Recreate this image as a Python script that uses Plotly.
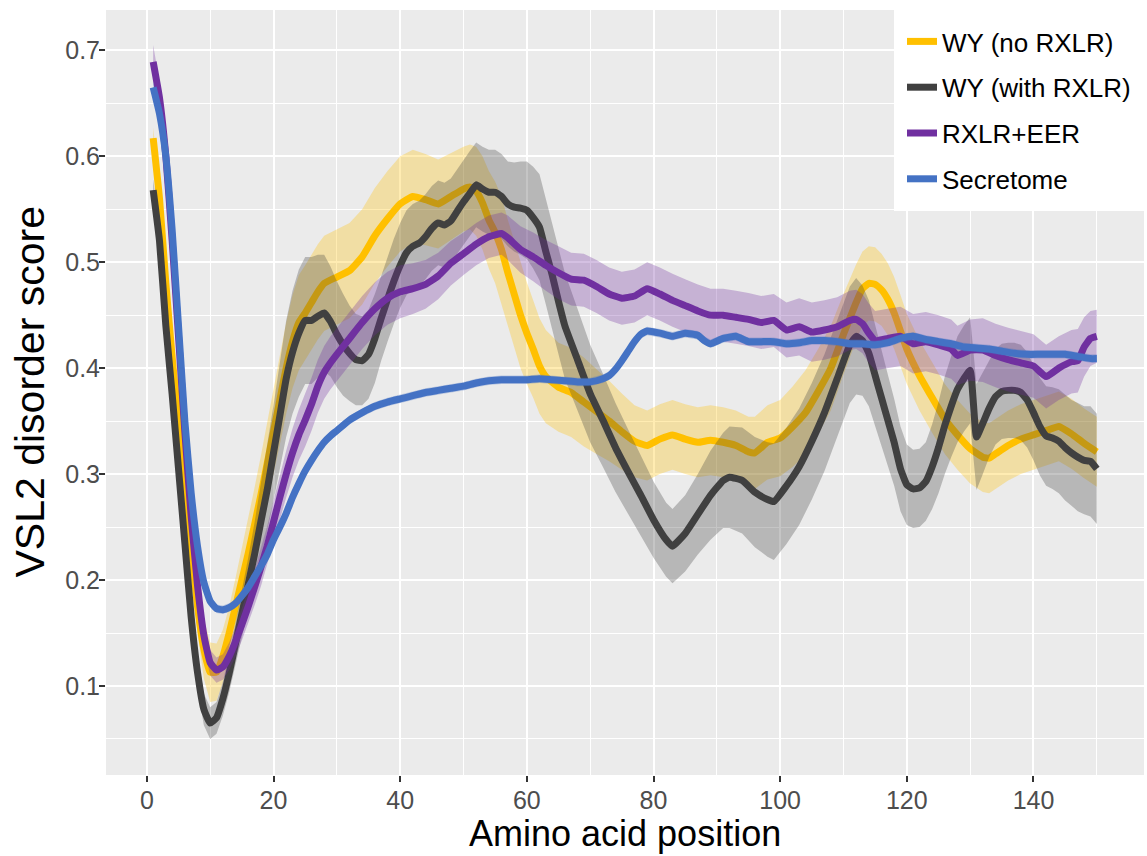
import plotly.graph_objects as go

# ---------------- data ----------------
series_names = ["WY (no RXLR)", "WY (with RXLR)", "RXLR+EER", "Secretome"]

x_wy_no = [1, 2, 3, 4, 5, 6, 7, 8, 9, 10, 11, 12, 13, 14, 15, 16, 17, 18, 19, 20,
           21, 22, 23, 24, 25, 26, 27, 28, 30, 32, 34, 36, 38, 40, 42, 44, 46, 48, 50,
           51, 52, 53, 54, 55, 56, 57, 58, 59, 60, 61, 62, 63, 65, 67, 69, 71, 73, 75,
           77, 79, 81, 83, 85, 87, 89, 91, 93, 95, 96, 98, 100, 102, 104, 106, 108, 110,
           112, 113, 114, 115, 116, 117, 118, 119, 120, 122, 124, 126, 128, 130, 132,
           133, 134, 136, 138, 140, 142, 144, 146, 148, 150]
y_wy_no = [0.617, 0.56, 0.48, 0.41, 0.35, 0.29, 0.23, 0.175, 0.135, 0.113, 0.113, 0.128,
           0.15, 0.175, 0.2, 0.225, 0.252, 0.28, 0.31, 0.34, 0.37, 0.40, 0.425, 0.443,
           0.452, 0.462, 0.472, 0.48, 0.486, 0.492, 0.505, 0.525, 0.541, 0.555, 0.562,
           0.559, 0.555, 0.562, 0.569, 0.571, 0.567, 0.556, 0.54, 0.528, 0.512, 0.49,
           0.47, 0.45, 0.433, 0.418, 0.402, 0.392, 0.382, 0.377, 0.368, 0.359, 0.35,
           0.34, 0.331, 0.327, 0.333, 0.337, 0.333, 0.33, 0.332, 0.33, 0.327, 0.321,
           0.32, 0.33, 0.334, 0.345, 0.358, 0.378, 0.40, 0.432, 0.462, 0.475, 0.48,
           0.479, 0.474, 0.465, 0.452, 0.435, 0.418, 0.393, 0.372, 0.352, 0.337, 0.324,
           0.316, 0.315, 0.319, 0.327, 0.333, 0.337, 0.341, 0.345, 0.338, 0.329, 0.321]
se_wy_no = [0.01, 0.012, 0.014, 0.015, 0.016, 0.018, 0.02, 0.025, 0.028, 0.028, 0.027,
            0.025, 0.025, 0.027, 0.03, 0.032, 0.035, 0.037, 0.04, 0.04, 0.042, 0.043,
            0.044, 0.045, 0.045, 0.045, 0.045, 0.045, 0.045, 0.045, 0.045, 0.045, 0.045,
            0.045, 0.044, 0.043, 0.042, 0.041, 0.04, 0.04, 0.042, 0.044, 0.046, 0.048,
            0.05, 0.05, 0.05, 0.05, 0.048, 0.046, 0.045, 0.044, 0.042, 0.042, 0.042,
            0.04, 0.038, 0.036, 0.034, 0.033, 0.033, 0.033, 0.033, 0.033, 0.033, 0.033,
            0.033, 0.033, 0.034, 0.035, 0.036, 0.038, 0.04, 0.04, 0.04, 0.038, 0.036,
            0.035, 0.035, 0.035, 0.034, 0.034, 0.034, 0.034, 0.033, 0.033, 0.033, 0.033,
            0.033, 0.033, 0.033, 0.033, 0.033, 0.033, 0.033, 0.033, 0.033, 0.033, 0.033,
            0.033, 0.033]

x_wy_with = [1, 2, 3, 4, 5, 6, 7, 8, 9, 10, 11, 12, 13, 14, 15, 16, 17, 18, 19, 20,
             21, 22, 23, 24, 25, 26, 27, 28, 29, 30, 31, 32, 33, 34, 35, 36, 37, 38, 39,
             40, 41, 42, 43, 44, 45, 46, 47, 48, 49, 50, 51, 52, 53, 54, 55, 56, 57, 58,
             59, 60, 61, 62, 63, 64, 65, 66, 68, 70, 72, 74, 76, 78, 80, 82, 83, 85, 87,
             89, 91, 92, 94, 96, 98, 99, 101, 103, 105, 107, 109, 111, 112, 113, 114, 115,
             116, 117, 118, 119, 120, 121, 122, 123, 124, 125, 126, 127, 128, 129, 130,
             131, 132, 133, 134, 135, 136, 137, 138, 139, 140, 141, 142, 143, 144, 145,
             146, 147, 148, 149, 150]
y_wy_with = [0.568, 0.52, 0.44, 0.375, 0.305, 0.235, 0.165, 0.113, 0.078, 0.065, 0.07,
             0.088, 0.112, 0.14, 0.168, 0.196, 0.224, 0.255, 0.285, 0.32, 0.355, 0.39,
             0.415, 0.433, 0.445, 0.445, 0.449, 0.452, 0.444, 0.432, 0.422, 0.414, 0.408,
             0.407, 0.413, 0.428, 0.447, 0.465, 0.482, 0.497, 0.509, 0.515, 0.518, 0.524,
             0.532, 0.537, 0.535, 0.539, 0.548, 0.557, 0.565, 0.573, 0.569, 0.566, 0.566,
             0.562, 0.555, 0.552, 0.551, 0.549, 0.542, 0.533, 0.51, 0.488, 0.463, 0.44,
             0.408, 0.376, 0.351, 0.325, 0.302, 0.28, 0.257, 0.238, 0.232, 0.244, 0.262,
             0.28, 0.294, 0.297, 0.294, 0.283, 0.276, 0.274, 0.289, 0.307, 0.331, 0.358,
             0.39, 0.422, 0.43, 0.426, 0.414, 0.393, 0.372, 0.351, 0.33, 0.305, 0.29,
             0.286, 0.287, 0.293, 0.307, 0.325, 0.346, 0.364, 0.38, 0.39, 0.398, 0.335,
             0.348, 0.362, 0.373, 0.378, 0.379, 0.379, 0.377, 0.37, 0.358, 0.345, 0.336,
             0.334, 0.331, 0.325, 0.32, 0.316, 0.313, 0.312, 0.305]
se_wy_with = [0.01, 0.012, 0.014, 0.015, 0.016, 0.017, 0.017, 0.016, 0.015, 0.015, 0.015,
              0.016, 0.018, 0.02, 0.022, 0.025, 0.03, 0.035, 0.04, 0.045, 0.05, 0.055,
              0.058, 0.06, 0.06, 0.06, 0.058, 0.055, 0.052, 0.05, 0.048, 0.045, 0.043,
              0.042, 0.042, 0.042, 0.04, 0.04, 0.04, 0.04, 0.04, 0.04, 0.04, 0.04, 0.04,
              0.04, 0.04, 0.04, 0.04, 0.04, 0.04, 0.04, 0.04, 0.04, 0.04, 0.04, 0.04,
              0.042, 0.044, 0.046, 0.048, 0.05, 0.05, 0.05, 0.05, 0.05, 0.048, 0.046,
              0.044, 0.042, 0.04, 0.038, 0.036, 0.035, 0.035, 0.036, 0.038, 0.042, 0.045,
              0.048, 0.05, 0.052, 0.054, 0.055, 0.055, 0.055, 0.055, 0.055, 0.055, 0.055,
              0.055, 0.052, 0.05, 0.047, 0.045, 0.043, 0.041, 0.04, 0.038, 0.037, 0.037,
              0.037, 0.04, 0.043, 0.046, 0.048, 0.05, 0.05, 0.05, 0.05, 0.048, 0.046,
              0.045, 0.045, 0.045, 0.045, 0.045, 0.045, 0.045, 0.046, 0.047, 0.048,
              0.049, 0.05, 0.05, 0.051, 0.051, 0.052, 0.052, 0.052]

x_rxlr = [1, 2, 3, 4, 5, 6, 7, 8, 9, 10, 11, 12, 13, 14, 15, 16, 17, 18, 19, 20, 21, 22,
          23, 24, 25, 26, 27, 28, 29, 30, 32, 34, 36, 38, 40, 42, 44, 46, 48, 50, 52, 54,
          56, 57, 59, 61, 63, 65, 67, 69, 71, 73, 75, 77, 79, 81, 83, 85, 87, 89, 91, 93,
          95, 97, 99, 101, 103, 105, 107, 109, 111, 112, 113, 114, 115, 117, 119, 121,
          123, 125, 127, 128, 130, 132, 134, 136, 138, 140, 142, 144, 146, 147, 148, 149,
          150]
y_rxlr = [0.689, 0.655, 0.6, 0.52, 0.43, 0.34, 0.26, 0.195, 0.148, 0.122, 0.115, 0.118,
          0.128, 0.142, 0.158, 0.175, 0.193, 0.212, 0.232, 0.255, 0.278, 0.3, 0.32, 0.337,
          0.351, 0.366, 0.383, 0.396, 0.405, 0.413, 0.428, 0.443, 0.456, 0.466, 0.472,
          0.475, 0.479, 0.487, 0.499, 0.508, 0.517, 0.524, 0.527, 0.523, 0.512, 0.505,
          0.497, 0.49, 0.484, 0.483, 0.477, 0.47, 0.466, 0.468, 0.475, 0.47, 0.464,
          0.459, 0.454, 0.45, 0.45, 0.448, 0.446, 0.443, 0.445, 0.436, 0.439, 0.434,
          0.436, 0.439, 0.445, 0.446, 0.442, 0.433, 0.426, 0.428, 0.43, 0.423, 0.425,
          0.422, 0.418, 0.412, 0.417, 0.417, 0.412, 0.408, 0.405, 0.402, 0.392, 0.4,
          0.406, 0.407, 0.42, 0.428, 0.43]
se_rxlr = [0.016, 0.015, 0.014, 0.013, 0.013, 0.012, 0.012, 0.012, 0.012, 0.012, 0.012,
           0.012, 0.013, 0.014, 0.015, 0.016, 0.017, 0.018, 0.019, 0.02, 0.021, 0.022,
           0.023, 0.024, 0.025, 0.025, 0.025, 0.025, 0.025, 0.025, 0.025, 0.025, 0.025,
           0.025, 0.025, 0.024, 0.023, 0.022, 0.021, 0.02, 0.02, 0.02, 0.02, 0.021,
           0.022, 0.023, 0.024, 0.025, 0.025, 0.025, 0.025, 0.025, 0.025, 0.025, 0.025,
           0.025, 0.025, 0.025, 0.025, 0.025, 0.025, 0.025, 0.025, 0.025, 0.025, 0.026,
           0.027, 0.028, 0.028, 0.028, 0.028, 0.028, 0.028, 0.028, 0.028, 0.028, 0.028,
           0.028, 0.028, 0.028, 0.028, 0.028, 0.029, 0.03, 0.03, 0.03, 0.03, 0.03, 0.03,
           0.03, 0.03, 0.03, 0.028, 0.026, 0.025]

x_secr = [1, 2, 3, 4, 5, 6, 7, 8, 9, 10, 11, 12, 13, 14, 15, 16, 17, 18, 19, 20, 21, 22,
          23, 24, 25, 26, 27, 28, 29, 30, 32, 34, 36, 38, 40, 42, 44, 46, 48, 50, 52, 54,
          56, 58, 60, 62, 64, 66, 68, 70, 72, 73, 74, 75, 76, 77, 78, 79, 81, 83, 85, 87,
          88, 89, 91, 93, 95, 97, 99, 101, 103, 105, 107, 109, 111, 113, 115, 117, 119,
          121, 123, 125, 127, 129, 131, 133, 135, 137, 139, 141, 143, 145, 147, 149, 150]
y_secr = [0.665, 0.64, 0.6, 0.53, 0.44, 0.35, 0.282, 0.232, 0.198, 0.18, 0.173, 0.172,
          0.174, 0.178, 0.185, 0.193, 0.203, 0.213, 0.224, 0.238, 0.25, 0.263, 0.278,
          0.291, 0.303, 0.313, 0.322, 0.33, 0.336, 0.341, 0.351, 0.358, 0.364, 0.368,
          0.371, 0.374, 0.377, 0.379, 0.381, 0.383, 0.386, 0.388, 0.389, 0.389, 0.389,
          0.39, 0.389, 0.388, 0.387, 0.387, 0.39, 0.393, 0.399, 0.407, 0.416, 0.425,
          0.432, 0.435, 0.433, 0.43, 0.433, 0.431, 0.426, 0.423, 0.428, 0.43, 0.425,
          0.425, 0.425, 0.423, 0.424, 0.426, 0.426, 0.425, 0.423, 0.423, 0.422, 0.424,
          0.428, 0.43, 0.427, 0.425, 0.423, 0.42, 0.419, 0.418, 0.416, 0.414, 0.413,
          0.413, 0.413, 0.413, 0.411, 0.409, 0.409]
se_secr = [0.006] * 6 + [0.004] * (len(x_secr) - 6)

# ---------------- styling ----------------
line_colors = ["#FFC000", "#404040", "#7030A0", "#4472C4"]
fill_colors = ["rgba(255,192,0,0.3)", "rgba(64,64,64,0.3)",
               "rgba(112,48,160,0.3)", "rgba(68,114,196,0.3)"]

series = [(x_wy_no, y_wy_no, se_wy_no), (x_wy_with, y_wy_with, se_wy_with),
          (x_rxlr, y_rxlr, se_rxlr), (x_secr, y_secr, se_secr)]

fig = go.Figure()
for i, (xs, ys, ses) in enumerate(series):
    upper = [y + s for y, s in zip(ys, ses)]
    lower = [y - s for y, s in zip(ys, ses)]
    fig.add_trace(go.Scatter(
        x=list(xs) + list(xs)[::-1], y=upper + lower[::-1],
        fill="toself", fillcolor=fill_colors[i], line=dict(width=0),
        mode="lines", showlegend=False, hoverinfo="skip"))
    fig.add_trace(go.Scatter(
        x=xs, y=ys, mode="lines", name=series_names[i],
        line=dict(color=line_colors[i], width=7, shape="spline", smoothing=0.4),
        legendgroup=series_names[i]))

FONT = "Liberation Sans, Arial, Helvetica, sans-serif"

fig.update_layout(
    width=1147, height=856,
    margin=dict(l=106, r=3, t=10, b=81),
    paper_bgcolor="white", plot_bgcolor="#EBEBEB",
    font=dict(family=FONT),
    showlegend=True,
    legend=dict(x=1, y=1, xanchor="right", yanchor="top", bgcolor="white",
                bordercolor="white", borderwidth=8,
                font=dict(size=26, color="black", family=FONT),
                tracegroupgap=9, itemwidth=30),
    xaxis=dict(range=[-6.45, 157.45], tickmode="linear", tick0=0, dtick=20,
               ticklabelstandoff=-3,
               showgrid=True, gridcolor="white", gridwidth=2, zeroline=False,
               ticks="outside", ticklen=6, tickwidth=2, tickcolor="#333333",
               tickfont=dict(size=25, color="#4D4D4D"),
               minor=dict(tick0=0, dtick=10, showgrid=True, gridcolor="white",
                          gridwidth=1, ticks="")),
    yaxis=dict(range=[0.016, 0.738], tickmode="linear", tick0=0, dtick=0.1,
               tickformat=".1f", ticklabelstandoff=-6,
               showgrid=True, gridcolor="white", gridwidth=2, zeroline=False,
               ticks="outside", ticklen=6, tickwidth=2, tickcolor="#333333",
               tickfont=dict(size=25, color="#4D4D4D"),
               minor=dict(tick0=0, dtick=0.05, showgrid=True, gridcolor="white",
                          gridwidth=1, ticks="")),
    annotations=[
        dict(text="Amino acid position", xref="paper", yref="paper", x=0.5, y=0,
             xanchor="center", yanchor="top", yshift=-37, showarrow=False,
             borderpad=0, font=dict(size=36, color="black", family=FONT)),
        dict(text="VSL2 disorder score", xref="paper", yref="paper", x=0, y=0.5,
             xanchor="center", yanchor="middle", xshift=-77, textangle=-90,
             showarrow=False, font=dict(size=41, color="black", family=FONT)),
    ],
)

fig.write_html("out.html")
